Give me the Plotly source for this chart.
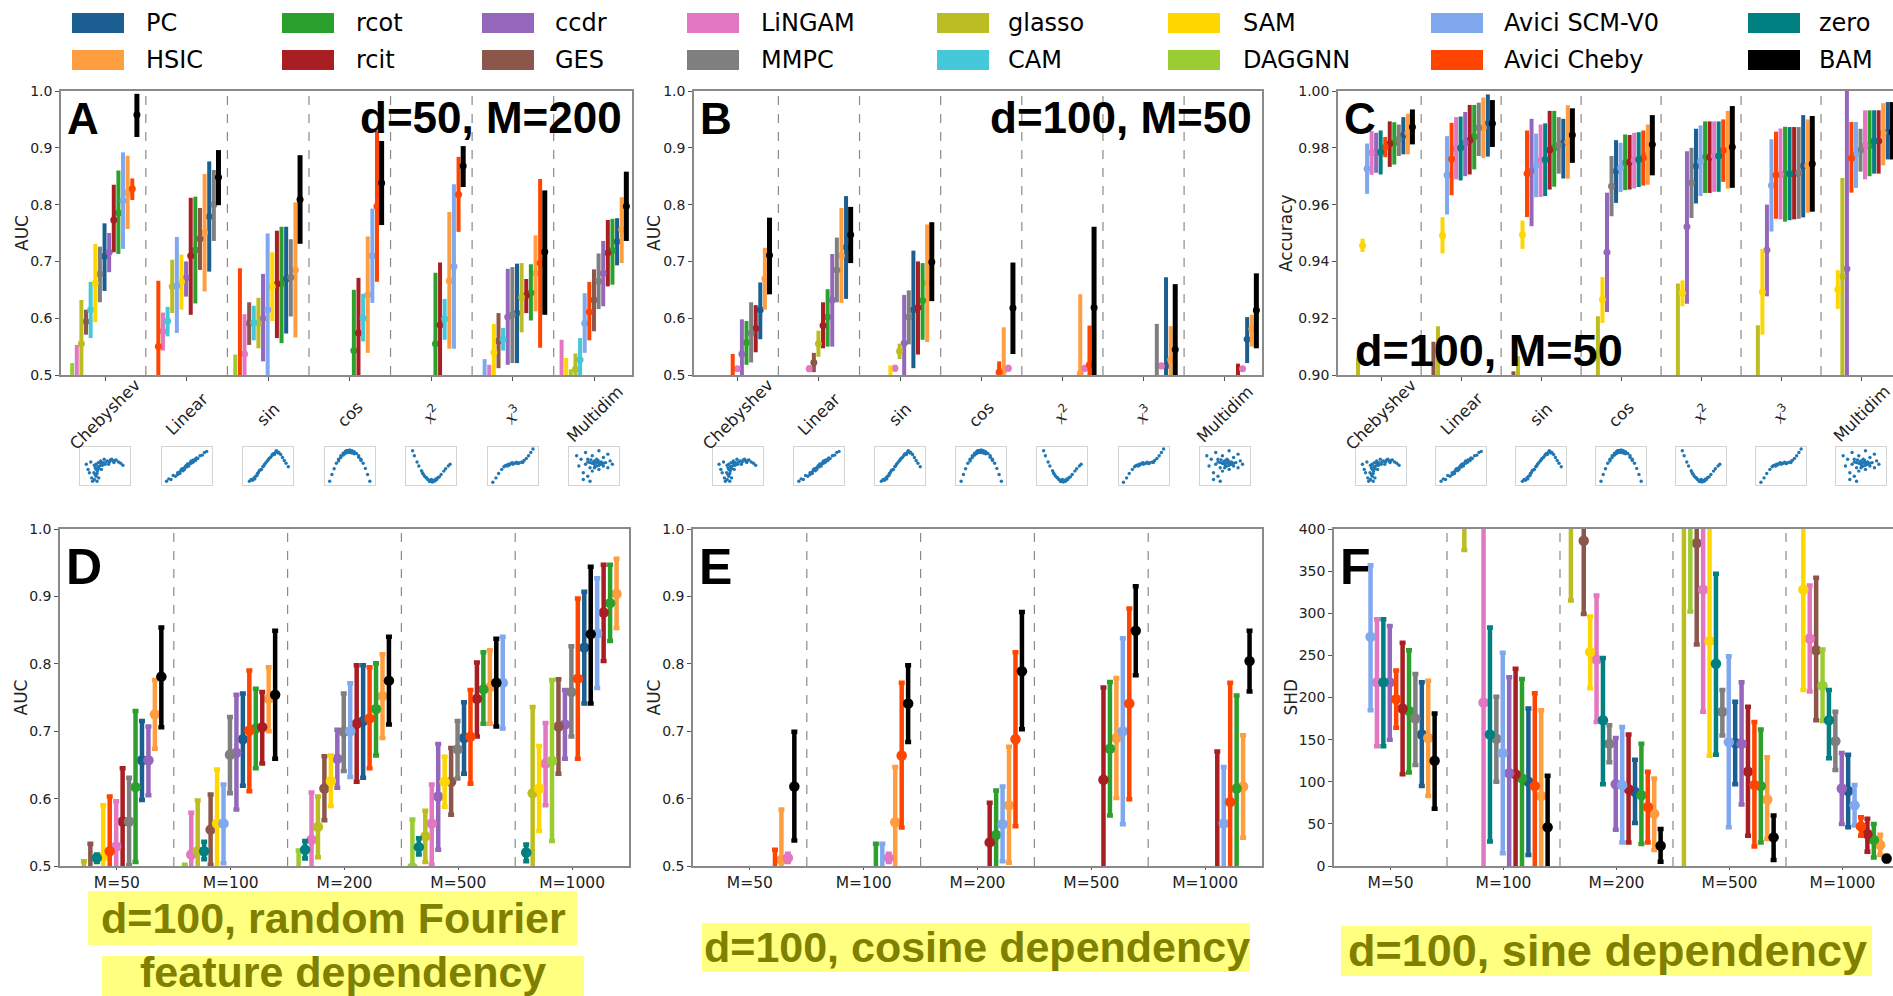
import plotly.graph_objects as go

W, H = 1893, 996

# ---------------- methods / colours ----------------
METHODS = ["PC", "HSIC", "rcot", "rcit", "ccdr", "GES", "LiNGAM", "MMPC", "glasso",
           "CAM", "SAM", "DAGGNN", "SCM", "CHB", "zero", "BAM"]
LABELS = {"SCM": "Avici SCM-V0", "CHB": "Avici Cheby"}
COLORS = {"PC": "#1b5e91", "HSIC": "#ff9e40", "rcot": "#2ca02c", "rcit": "#a81e22",
          "ccdr": "#9467bd", "GES": "#8c564b", "LiNGAM": "#e377c2", "MMPC": "#7f7f7f",
          "glasso": "#bcbd22", "CAM": "#45c8d9", "SAM": "#ffd700", "DAGGNN": "#9acd32",
          "SCM": "#80a8ee", "CHB": "#ff4500", "zero": "#008080", "BAM": "#000000"}
LEGEND_ROWS = [["PC", "rcot", "ccdr", "LiNGAM", "glasso", "SAM", "SCM", "zero"],
               ["HSIC", "rcit", "GES", "MMPC", "CAM", "DAGGNN", "CHB", "BAM"]]

FUNC_CATS = ["Chebyshev", "Linear", "sin", "cos",
             '<span style="font-family:DejaVu Serif"><i>x</i></span><sup>2</sup>',
             '<span style="font-family:DejaVu Serif"><i>x</i></span><sup>3</sup>', "Multidim"]
M_CATS = ["M=50", "M=100", "M=200", "M=500", "M=1000"]

# each group: entries (method, mean, low, high) left->right, None = unseen slot
# ---------------- Panel A (AUC, d=50, M=200) ----------------
A_cheb = [("DAGGNN", .46, .40, .521), ("LiNGAM", .49, .44, .553), ("glasso", .555, .48, .632),
          ("GES", .594, .571, .615), ("CAM", .615, .565, .664), ("SAM", .662, .593, .731),
          ("MMPC", .678, .628, .726), ("PC", .709, .648, .767), ("ccdr", .716, .681, .75),
          ("rcit", .773, .716, .835), ("rcot", .785, .713, .86), ("SCM", .807, .722, .892),
          ("HSIC", .821, .757, .886), ("CHB", .828, .808, .846), ("BAM", .958, .919, .995)]
A_lin = [("CHB", .55, .43, .666), ("LiNGAM", .577, .543, .61), ("CAM", .595, .568, .62),
         ("glasso", .656, .609, .703), ("SCM", .657, .574, .743), ("SAM", .664, .615, .712),
         ("ccdr", .671, .638, .70), ("rcit", .71, .606, .812), ("rcot", .72, .626, .814),
         ("GES", .74, .685, .794), ("HSIC", .751, .647, .854), ("PC", .779, .682, .876),
         ("MMPC", .80, .736, .861), ("BAM", .848, .799, .896)]
A_sin = [("DAGGNN", .45, .40, .536), ("CHB", .495, .40, .688), ("LiNGAM", .537, .47, .607),
         ("GES", .591, .553, .628), ("CAM", .592, .561, .622), ("glasso", .591, .547, .636),
         ("ccdr", .60, .524, .678), ("SCM", .615, .45, .749), ("SAM", .656, .595, .716),
         ("rcit", .66, .565, .754), ("rcot", .661, .556, .761), ("PC", .669, .573, .761),
         ("MMPC", .672, .603, .739), ("HSIC", .685, .566, .804), ("BAM", .809, .731, .887)]
A_cos = [("rcot", .543, .44, .65), ("rcit", .574, .45, .671), ("CAM", .60, .559, .643),
         ("HSIC", .641, .539, .744), ("SCM", .71, .627, .793), ("CHB", .797, .664, .93),
         ("BAM", .838, .764, .912)]
A_x2 = [("rcot", .555, .43, .68), ("rcit", .588, .46, .698), ("CAM", .599, .562, .634),
        ("HSIC", .666, .546, .787), ("SCM", .691, .546, .836), ("CHB", .818, .752, .884),
        ("BAM", .868, .831, .903)]
A_x3 = [("SCM", .45, .40, .528), ("LiNGAM", .47, .42, .518), ("SAM", .54, .46, .59),
        ("GES", .56, .512, .609), ("CAM", .563, .543, .583), ("ccdr", .602, .518, .687),
        ("MMPC", .606, .521, .69), ("PC", .609, .521, .696), ("glasso", .637, .575, .697),
        ("rcit", .64, .609, .669), ("rcot", .645, .596, .695), ("HSIC", .679, .612, .746),
        ("CHB", .697, .548, .845), ("BAM", .717, .606, .825)]
A_multi = [("LiNGAM", .48, .40, .562), ("SAM", .47, .41, .53), ("DAGGNN", .47, .43, .51),
           ("glasso", .51, .47, .538), ("CAM", .527, .48, .565), ("SCM", .591, .539, .644),
           ("CHB", .611, .561, .664), ("GES", .632, .577, .686), ("MMPC", .665, .616, .714),
           ("ccdr", .679, .621, .736), ("rcit", .715, .656, .773), ("rcot", .719, .659, .775),
           ("PC", .735, .693, .776), ("HSIC", .756, .697, .813), ("BAM", .797, .736, .858)]

# ---------------- Panel B (AUC, d=100, M=50) ----------------
B_cheb = [("CHB", .46, .40, .537), ("LiNGAM", .511, .506, .515), ("ccdr", .537, .46, .598),
          ("rcot", .557, .518, .595), ("MMPC", .574, .522, .628), ("rcit", .582, .54, .623),
          ("PC", .615, .563, .663), ("HSIC", .669, .615, .724), ("BAM", .711, .642, .777)]
B_lin = [("LiNGAM", .511, .505, .517), ("GES", .522, .505, .539), ("glasso", .555, .532, .578),
         ("rcit", .587, .547, .628), ("rcot", .602, .55, .651), ("ccdr", .632, .55, .713),
         ("MMPC", .685, .628, .742), ("HSIC", .71, .627, .794), ("PC", .725, .634, .815),
         ("BAM", .747, .697, .796)]
B_sin = [("SAM", .47, .42, .517), ("LiNGAM", .512, .506, .518), ("glasso", .542, .528, .555),
         ("ccdr", .556, .45, .641), ("MMPC", .602, .554, .649), ("PC", .615, .512, .719),
         ("rcit", .619, .536, .70), ("rcot", .631, .562, .697), ("HSIC", .662, .558, .765),
         ("BAM", .699, .63, .769)]
B_cos = [("CHB", .505, .47, .524), ("HSIC", .508, .44, .584), ("LiNGAM", .512, .506, .518),
         ("BAM", .618, .537, .698)]
B_x2 = [("HSIC", .503, .40, .642), ("LiNGAM", .512, .506, .518), ("CHB", .518, .45, .587),
        ("BAM", .619, .45, .761)]
B_x3 = [("MMPC", .48, .40, .59), ("LiNGAM", .516, .51, .522), ("PC", .516, .40, .672),
        ("HSIC", .527, .45, .586), ("BAM", .545, .45, .66)]
B_multi = [("rcit", .47, .42, .52), ("LiNGAM", .511, .506, .516), ("PC", .563, .521, .602),
           ("HSIC", .581, .55, .606), ("BAM", .614, .547, .679)]

# ---------------- Panel C (Accuracy, d=100, M=50) ----------------
C_cheb = [("glasso", .88, .86, .9062), ("SAM", .9456, .9433, .948), ("SCM", .9726, .9638, .9815),
          ("LiNGAM", .9783, .9705, .9859), ("ccdr", .9783, .9712, .9853), ("zero", .9785, .9706, .9861),
          ("CHB", .9803, .9767, .9838), ("rcit", .9814, .9733, .9893), ("rcot", .9818, .9741, .989),
          ("MMPC", .983, .9771, .9882), ("PC", .9844, .9777, .9908), ("HSIC", .9853, .9777, .992),
          ("BAM", .9873, .9812, .9935)]
C_lin = [("GES", .88, .86, .9117), ("glasso", .89, .86, .9172), ("SAM", .9491, .9428, .9556),
         ("SCM", .9704, .9565, .9841), ("CHB", .9761, .9633, .9888), ("LiNGAM", .9797, .9689, .9908),
         ("zero", .98, .9685, .991), ("ccdr", .9818, .97, .9926), ("rcit", .9827, .9706, .9951),
         ("rcot", .9839, .9724, .9951), ("MMPC", .9871, .9771, .9959), ("HSIC", .9871, .9764, .9977),
         ("PC", .9886, .9769, .9988), ("BAM", .9886, .9803, .9968)]
C_sin = [("GES", .88, .86, .9013), ("glasso", .885, .86, .9066), ("SAM", .9494, .9444, .9544),
         ("CHB", .9709, .9556, .9861), ("ccdr", .9718, .9524, .9902), ("SCM", .9738, .9626, .985),
         ("LiNGAM", .9756, .9627, .9882), ("zero", .9759, .963, .9886), ("rcit", .9792, .9653, .993),
         ("rcot", .98, .9663, .993), ("MMPC", .981, .9709, .9908), ("PC", .9818, .9692, .9902),
         ("HSIC", .982, .9691, .995), ("BAM", .9845, .9747, .9939)]
C_cos = [("glasso", .89, .86, .9207), ("SAM", .9266, .9183, .9345), ("ccdr", .9432, .9222, .9642),
         ("MMPC", .9665, .9559, .9771), ("PC", .9718, .9606, .9827), ("SCM", .973, .9644, .9818),
         ("rcot", .9747, .9651, .9847), ("rcit", .975, .9653, .9845), ("LiNGAM", .9756, .9657, .9853),
         ("zero", .9759, .9662, .9855), ("CHB", .9765, .9667, .9861), ("HSIC", .9777, .967, .9882),
         ("BAM", .9812, .9703, .9915)]
C_x2 = [("glasso", .89, .86, .9322), ("SAM", .9289, .9242, .9333), ("ccdr", .9522, .9251, .9788),
        ("MMPC", .9677, .9553, .98), ("PC", .9736, .9604, .9867), ("SCM", .9753, .963, .9879),
        ("rcot", .9767, .9641, .9893), ("rcit", .9767, .9641, .9893), ("LiNGAM", .9771, .9645, .9893),
        ("zero", .9771, .9645, .9893), ("CHB", .9791, .968, .99), ("HSIC", .9792, .9656, .993),
        ("BAM", .9803, .9659, .9947)]
C_x3 = [("glasso", .89, .86, .9175), ("SAM", .9293, .9142, .9444), ("ccdr", .944, .9277, .96),
        ("SCM", .9667, .9505, .983), ("CHB", .9704, .955, .9857), ("LiNGAM", .9706, .9548, .9868),
        ("rcot", .9709, .954, .9874), ("zero", .9709, .9545, .9873), ("rcit", .9709, .9548, .9873),
        ("MMPC", .9712, .955, .9873), ("PC", .9736, .9555, .9915), ("HSIC", .9738, .9571, .99),
        ("BAM", .9744, .9575, .9912)]
C_multi = [("SAM", .9301, .9233, .9369), ("glasso", .9348, .88, .9694), ("ccdr", .9374, .88, 1.02),
           ("CHB", .9763, .9642, .9891), ("SCM", .9777, .9659, .9891), ("MMPC", .9792, .9716, .9867),
           ("LiNGAM", .9808, .9689, .9932), ("rcot", .9808, .97, .9932), ("zero", .9824, .9709, .9932),
           ("rcit", .9824, .9709, .9932), ("HSIC", .9851, .9738, .9957), ("PC", .9855, .9759, .9961),
           ("BAM", .9855, .9759, .9961)]

# ---------------- Panel D (AUC, random Fourier) ----------------
D_50 = [("glasso", .46, .40, .507), ("GES", .48, .42, .533), ("zero", .512, .506, .517),
        ("SAM", .514, .44, .59), ("CHB", .522, .44, .603), ("LiNGAM", .529, .46, .596),
        ("rcit", .566, .48, .645), ("MMPC", .566, .501, .631), ("rcot", .617, .506, .73),
        ("PC", .657, .598, .715), ("ccdr", .657, .605, .707), ("HSIC", .725, .674, .776),
        ("BAM", .781, .706, .854)]
D_100 = [("DAGGNN", .45, .40, .502), ("LiNGAM", .517, .45, .579), ("glasso", .522, .45, .597),
         ("zero", .522, .51, .536), ("GES", .554, .502, .606), ("SAM", .563, .48, .643),
         ("SCM", .563, .504, .621), ("MMPC", .665, .608, .721), ("ccdr", .668, .584, .754),
         ("PC", .688, .619, .756), ("CHB", .701, .611, .79), ("rcot", .704, .645, .763),
         ("rcit", .706, .652, .758), ("HSIC", .748, .70, .795), ("BAM", .754, .659, .849)]
D_200 = [("DAGGNN", .47, .42, .523), ("zero", .524, .511, .537), ("LiNGAM", .539, .47, .609),
         ("glasso", .558, .513, .603), ("GES", .615, .568, .663), ("SAM", .626, .589, .664),
         ("ccdr", .659, .616, .702), ("MMPC", .699, .641, .756), ("SCM", .70, .632, .771),
         ("rcit", .711, .625, .798), ("PC", .715, .631, .798), ("CHB", .719, .645, .795),
         ("rcot", .733, .664, .801), ("HSIC", .752, .69, .814), ("BAM", .775, .71, .84)]
D_500 = [("DAGGNN", .498, .43, .569), ("zero", .528, .517, .541), ("glasso", .544, .506, .582),
         ("LiNGAM", .563, .502, .621), ("ccdr", .603, .524, .681), ("SAM", .625, .588, .662),
         ("GES", .625, .576, .675), ("MMPC", .673, .63, .715), ("PC", .69, .637, .743),
         ("CHB", .692, .622, .761), ("rcit", .748, .692, .802), ("rcot", .762, .711, .817),
         ("HSIC", .765, .711, .82), ("BAM", .772, .707, .837), ("SCM", .772, .704, .84)]
D_1000 = [("zero", .52, .507, .532), ("glasso", .608, .45, .736), ("SAM", .615, .552, .678),
          ("LiNGAM", .652, .59, .712), ("DAGGNN", .656, .537, .776), ("GES", .707, .637, .777),
          ("ccdr", .71, .659, .761), ("MMPC", .758, .692, .826), ("CHB", .778, .659, .897),
          ("PC", .824, .741, .907), ("BAM", .844, .741, .944), ("SCM", .845, .764, .927),
          ("rcit", .876, .804, .947), ("rcot", .89, .834, .947), ("HSIC", .904, .853, .956)]

# ---------------- Panel E (AUC, cosine) ----------------
E_50 = [("CHB", .48, .42, .524), ("HSIC", .509, .44, .584), ("LiNGAM", .512, .506, .518),
        ("BAM", .618, .538, .699)]
E_100 = [("rcot", .47, .42, .533), ("SCM", .47, .42, .533), ("LiNGAM", .512, .506, .518),
         ("HSIC", .565, .45, .647), ("CHB", .664, .557, .772), ("BAM", .741, .684, .798)]
E_200 = [("rcit", .535, .45, .594), ("rcot", .546, .45, .612), ("SCM", .562, .507, .618),
         ("HSIC", .59, .505, .677), ("CHB", .688, .559, .817), ("BAM", .789, .703, .877)]
E_500 = [("rcit", .628, .45, .765), ("rcot", .674, .575, .773), ("HSIC", .69, .601, .779),
         ("SCM", .70, .562, .838), ("CHB", .741, .599, .882), ("BAM", .849, .783, .915)]
E_1000 = [("rcit", .49, .40, .67), ("SCM", .563, .45, .647), ("CHB", .595, .45, .772),
          ("rcot", .615, .45, .753), ("HSIC", .618, .542, .694), ("BAM", .804, .759, .849)]

# ---------------- Panel F (SHD, sine) ----------------
F_50 = [("SCM", 272, 185, 357), ("LiNGAM", 218, 142, 293), ("zero", 218, 142, 293),
        ("ccdr", 218, 150, 285), ("CHB", 198, 164, 232), ("rcit", 187, 109, 265),
        ("rcot", 184, 111, 256), ("MMPC", 175, 120, 228), ("PC", 156, 95, 218),
        ("HSIC", 152, 83, 220), ("BAM", 125, 68, 181)]
F_100 = [("glasso", 450, 375, 600), None, None, ("LiNGAM", 194, -10, 420), ("zero", 156, 29, 283),
         ("MMPC", 151, 100, 201), ("SCM", 134, 15, 253), ("ccdr", 110, -10, 224),
         ("rcit", 109, -10, 234), ("rcot", 104, -10, 222), ("PC", 100, 13, 187),
         ("CHB", 95, -10, 205), ("HSIC", 83, -10, 185), ("BAM", 46, -10, 107)]
F_200 = [("glasso", 450, 315, 600), None, ("GES", 386, 299, 420), ("SAM", 254, 211, 296),
         ("LiNGAM", 245, 171, 321), ("zero", 173, 97, 247), ("MMPC", 145, 123, 167),
         ("ccdr", 97, 43, 152), ("SCM", 96, 28, 165), ("rcit", 91, 28, 156), ("PC", 88, 51, 126),
         ("rcot", 84, 26, 145), ("CHB", 70, 28, 112), ("HSIC", 62, 19, 104), ("BAM", 24, 5, 44)]
F_500 = [("glasso", 480, -10, 1000), ("DAGGNN", 450, 302, 600), ("GES", 383, 263, 420),
         ("LiNGAM", 328, 183, 420), ("SAM", 267, 131, 420), ("zero", 240, 132, 347),
         ("MMPC", 183, 155, 209), ("SCM", 147, 46, 249), ("PC", 146, 97, 195),
         ("ccdr", 145, 73, 218), ("rcit", 112, 36, 189), ("CHB", 96, 23, 171),
         ("rcot", 95, 28, 162), ("HSIC", 79, 32, 129), ("BAM", 34, 7, 60)]
F_1000 = [("SAM", 328, 209, 420), ("LiNGAM", 270, 207, 333), ("GES", 256, 173, 342),
          ("DAGGNN", 214, 172, 257), ("zero", 173, 128, 209), ("MMPC", 148, 114, 183),
          ("ccdr", 92, 50, 134), ("PC", 89, 46, 132), ("SCM", 72, 48, 96), ("CHB", 47, 36, 58),
          ("rcit", 38, 17, 56), ("rcot", 31, 10, 50), ("HSIC", 25, 13, 37), ("BAM", 9, 6, 12)]

# ---------------- thumbnails (approximate shapes) ----------------
TH_CHEB = [(0.08, 0.55), (0.12, 0.4), (0.15, 0.3), (0.18, 0.62), (0.2, 0.15), (0.22, 0.05), (0.25, 0.3),
           (0.26, 0.1), (0.28, 0.45), (0.3, 0.2), (0.3, 0.55), (0.32, 0.05), (0.33, 0.35), (0.35, 0.6),
           (0.36, 0.15), (0.38, 0.5), (0.4, 0.65), (0.42, 0.4), (0.45, 0.6), (0.48, 0.7), (0.5, 0.55),
           (0.55, 0.65), (0.6, 0.62), (0.65, 0.7), (0.7, 0.6), (0.75, 0.68), (0.8, 0.62), (0.85, 0.58),
           (0.9, 0.52), (0.28, 0.25), (0.34, 0.48), (0.4, 0.58), (0.3, 0.4), (0.26, 0.52), (0.32, 0.28),
           (0.36, 0.42), (0.44, 0.52), (0.52, 0.62), (0.58, 0.55), (0.62, 0.68), (0.68, 0.64), (0.72, 0.66)]
TH_LIN = [(0.05, 0.05), (0.1, 0.12), (0.15, 0.1), (0.2, 0.22), (0.25, 0.2), (0.3, 0.3), (0.35, 0.33),
          (0.4, 0.38), (0.45, 0.45), (0.5, 0.47), (0.55, 0.55), (0.6, 0.58), (0.65, 0.62), (0.7, 0.7),
          (0.75, 0.72), (0.8, 0.8), (0.85, 0.82), (0.9, 0.9), (0.95, 0.93), (0.3, 0.25), (0.5, 0.52),
          (0.6, 0.65), (0.4, 0.42), (0.7, 0.66), (0.35, 0.28), (0.45, 0.4), (0.55, 0.5), (0.65, 0.68),
          (0.38, 0.4), (0.48, 0.5), (0.58, 0.6), (0.42, 0.36), (0.52, 0.56), (0.62, 0.6), (0.72, 0.74)]
TH_SIN = [(0.08, 0.05), (0.12, 0.1), (0.18, 0.15), (0.22, 0.2), (0.28, 0.3), (0.32, 0.38), (0.38, 0.48),
          (0.42, 0.55), (0.48, 0.65), (0.52, 0.72), (0.58, 0.8), (0.62, 0.86), (0.66, 0.9), (0.7, 0.93),
          (0.74, 0.9), (0.78, 0.84), (0.82, 0.75), (0.86, 0.66), (0.9, 0.58), (0.95, 0.48), (0.15, 0.08),
          (0.25, 0.22), (0.35, 0.4), (0.45, 0.6), (0.55, 0.75), (0.2, 0.12), (0.3, 0.36), (0.6, 0.85),
          (0.4, 0.5), (0.5, 0.68), (0.64, 0.84), (0.68, 0.95), (0.72, 0.88), (0.26, 0.28)]
TH_COS = [(0.05, 0.05), (0.1, 0.25), (0.15, 0.42), (0.2, 0.58), (0.25, 0.7), (0.3, 0.8), (0.35, 0.88),
          (0.4, 0.93), (0.45, 0.96), (0.5, 0.97), (0.55, 0.95), (0.6, 0.92), (0.65, 0.87), (0.7, 0.8),
          (0.75, 0.7), (0.8, 0.58), (0.85, 0.43), (0.9, 0.25), (0.95, 0.05), (0.45, 0.9), (0.5, 0.9),
          (0.55, 0.88), (0.4, 0.87), (0.35, 0.82), (0.6, 0.86), (0.42, 0.95), (0.48, 0.93),
          (0.52, 0.94), (0.58, 0.9), (0.3, 0.75), (0.7, 0.76), (0.25, 0.65), (0.75, 0.66)]
TH_X2 = [(0.08, 0.95), (0.12, 0.8), (0.18, 0.62), (0.22, 0.5), (0.28, 0.36), (0.32, 0.26), (0.38, 0.16),
         (0.42, 0.1), (0.48, 0.05), (0.52, 0.03), (0.58, 0.06), (0.62, 0.1), (0.68, 0.18), (0.72, 0.25),
         (0.78, 0.35), (0.82, 0.42), (0.88, 0.5), (0.92, 0.55), (0.45, 0.08), (0.55, 0.05), (0.5, 0.1),
         (0.4, 0.14), (0.6, 0.12), (0.35, 0.2), (0.65, 0.16), (0.46, 0.04), (0.54, 0.08), (0.3, 0.3)]
TH_X3 = [(0.05, 0.02), (0.12, 0.15), (0.18, 0.28), (0.25, 0.4), (0.3, 0.48), (0.35, 0.52), (0.4, 0.55),
         (0.45, 0.57), (0.5, 0.58), (0.55, 0.58), (0.6, 0.59), (0.65, 0.6), (0.7, 0.62), (0.75, 0.66),
         (0.8, 0.72), (0.85, 0.8), (0.9, 0.9), (0.95, 1.0), (0.42, 0.53), (0.5, 0.55), (0.58, 0.61),
         (0.38, 0.5), (0.48, 0.6), (0.62, 0.57), (0.72, 0.6), (0.32, 0.5)]
TH_MULTI = [(0.1, 0.8), (0.15, 0.5), (0.2, 0.7), (0.25, 0.3), (0.3, 0.9), (0.3, 0.55), (0.35, 0.2),
            (0.35, 0.7), (0.4, 0.45), (0.4, 0.6), (0.45, 0.8), (0.45, 0.35), (0.5, 0.55), (0.5, 0.65),
            (0.55, 0.5), (0.55, 0.7), (0.6, 0.6), (0.6, 0.4), (0.65, 0.55), (0.7, 0.75), (0.7, 0.5),
            (0.75, 0.6), (0.8, 0.45), (0.85, 0.65), (0.9, 0.55), (0.25, 0.1), (0.8, 0.85), (0.4, 0.05),
            (0.6, 0.95), (0.5, 0.45), (0.65, 0.62), (0.45, 0.58), (0.55, 0.6), (0.6, 0.52), (0.7, 0.58),
            (0.35, 0.62), (0.42, 0.68), (0.52, 0.5), (0.58, 0.66), (0.48, 0.62)]
THUMBS = [TH_CHEB, TH_LIN, TH_SIN, TH_COS, TH_X2, TH_X3, TH_MULTI]

# ---------------- layout geometry (pixels) ----------------
PANELS = [
    dict(letter="A", groups=[A_cheb, A_lin, A_sin, A_cos, A_x2, A_x3, A_multi], cats=FUNC_CATS,
         px=(61, 632), py=(91, 375), xr=(-0.54, 6.46), yr=(0.5, 1.0), dtick=0.1, fmt=".1f",
         ytitle="AUC", tx=22, top=True, right=True, tag="d=50, M=200"),
    dict(letter="B", groups=[B_cheb, B_lin, B_sin, B_cos, B_x2, B_x3, B_multi], cats=FUNC_CATS,
         px=(694, 1262), py=(91, 375), xr=(-0.54, 6.46), yr=(0.5, 1.0), dtick=0.1, fmt=".1f",
         ytitle="AUC", tx=654, top=True, right=True, tag="d=100, M=50"),
    dict(letter="C", groups=[C_cheb, C_lin, C_sin, C_cos, C_x2, C_x3, C_multi], cats=FUNC_CATS,
         px=(1338, 1893), py=(91, 375), xr=(-0.54, 6.40), yr=(0.9, 1.0), dtick=0.02, fmt=".2f",
         ytitle="Accuracy", tx=1286, top=True, right=False, tag=None),
    dict(letter="D", groups=[D_50, D_100, D_200, D_500, D_1000], cats=M_CATS,
         px=(60, 629), py=(529, 866), xr=(-0.5, 4.5), yr=(0.5, 1.0), dtick=0.1, fmt=".1f",
         ytitle="AUC", tx=20, top=False, right=True, tag=None),
    dict(letter="E", groups=[E_50, E_100, E_200, E_500, E_1000], cats=M_CATS,
         px=(693, 1262), py=(529, 866), xr=(-0.5, 4.5), yr=(0.5, 1.0), dtick=0.1, fmt=".1f",
         ytitle="AUC", tx=653, top=False, right=True, tag=None),
    dict(letter="F", groups=[F_50, F_100, F_200, F_500, F_1000], cats=M_CATS,
         px=(1334, 1893), py=(529, 866), xr=(-0.5, 4.447), yr=(0, 400), dtick=50, fmt="d",
         ytitle="SHD", tx=1290, top=False, right=False, tag=None),
]
NSLOT = 16
OFF0, STEP = -0.46, 0.0567


def fx(x):
    return x / W


def fy(y):
    return 1 - y / H


fig = go.Figure()
shapes, annotations = [], []
FRAME = "#8a8a8a"
TICKFONT = dict(family="DejaVu Sans", size=14, color="#222")

for i, p in enumerate(PANELS, start=1):
    xa, ya = ("x%d" % i if i > 1 else "x"), ("y%d" % i if i > 1 else "y")
    by_m = {}
    for gi, grp in enumerate(p["groups"]):
        pad = NSLOT - len(grp)
        for j, e in enumerate(grp):
            if e is None:
                continue
            m, mean, lo, hi = e
            d = by_m.setdefault(m, ([], [], [], []))
            d[0].append(gi + OFF0 + (pad + j) * STEP)
            d[1].append(mean)
            d[2].append(hi - mean)
            d[3].append(mean - lo)
    order = [m for m in METHODS if m != "BAM"] + ["BAM"]
    top = p["top"]
    for m in order:
        if m not in by_m:
            continue
        xs, ys, ep, em = by_m[m]
        fig.add_trace(go.Scatter(
            x=xs, y=ys, mode="markers", xaxis=xa, yaxis=ya, showlegend=False,
            marker=dict(color=COLORS[m], size=(7 if top else 10.5)),
            error_y=dict(type="data", array=ep, arrayminus=em, color=COLORS[m],
                         thickness=(5 if m == "BAM" else 4) if top else 4.5,
                         width=0 if top else 3),
            hoverinfo="skip"))
    n = len(p["cats"])
    axkey = "xaxis%d" % i if i > 1 else "xaxis"
    aykey = "yaxis%d" % i if i > 1 else "yaxis"
    fig.layout[axkey] = dict(
        domain=[fx(p["px"][0]), fx(p["px"][1])], range=list(p["xr"]), anchor=ya, automargin=False,
        tickmode="array", tickvals=list(range(n)), ticktext=p["cats"], showticklabels=not top,
        tickfont=dict(family="DejaVu Sans", size=15.5, color="#222"),
        showline=True, linecolor=FRAME, linewidth=1.5, mirror=True,
        ticks="outside", ticklen=4 if top else 2, tickcolor="#555", showgrid=False, zeroline=False)
    fig.layout[aykey] = dict(
        domain=[fy(p["py"][1]), fy(p["py"][0])], range=list(p["yr"]), anchor=xa, automargin=False,
        dtick=p["dtick"], tick0=p["yr"][0], tickformat=p["fmt"], tickfont=TICKFONT,
        showline=True, linecolor=FRAME, linewidth=1.5, mirror=p["right"],
        ticks="outside", ticklen=4, tickcolor="#555", showgrid=False, zeroline=False)
    for k in range(n - 1):
        shapes.append(dict(type="line", xref=xa, yref=ya + " domain", x0=k + 0.5, x1=k + 0.5,
                           y0=0, y1=1, line=dict(color="#8a8a8a", width=1.2, dash="dash")))
    # rotated category labels centred under each tick (top row)
    if top:
        for k, cat in enumerate(p["cats"]):
            annotations.append(dict(text=cat, xref=xa, yref="paper", x=k, y=fy(414),
                                    xanchor="center", yanchor="middle", textangle=-45, showarrow=False,
                                    font=dict(family="DejaVu Sans", size=16.5, color="#222")))
    # axis title
    annotations.append(dict(text=p["ytitle"], xref="paper", yref="paper", x=fx(p["tx"]),
                            y=fy((p["py"][0] + p["py"][1]) / 2), textangle=-90, showarrow=False,
                            xanchor="center", yanchor="middle",
                            font=dict(family="DejaVu Sans", size=17, color="#222")))
    # panel letter
    big = 44 if top else 50
    annotations.append(dict(text="<b>%s</b>" % p["letter"], xref="paper", yref="paper",
                            x=fx(p["px"][0] + 4), y=fy(p["py"][0] + (1 if top else 8)),
                            xanchor="left", yanchor="top", showarrow=False,
                            font=dict(family="Liberation Sans", size=big, color="black")))
    if p["tag"]:
        annotations.append(dict(text="<b>%s</b>" % p["tag"], xref="paper", yref="paper",
                                x=fx(p["px"][1] - 8), y=fy(p["py"][0]), xanchor="right",
                                yanchor="top", showarrow=False,
                                font=dict(family="Liberation Sans", size=44, color="black")))

# overlay label inside panel C
annotations.append(dict(text="<b>d=100, M=50</b>", xref="paper", yref="paper", x=fx(1353), y=fy(378),
                        xanchor="left", yanchor="bottom", showarrow=False,
                        font=dict(family="Liberation Sans", size=45, color="black")))

# thumbnails below panels A-C
ax_id = 7
for p in PANELS[:3]:
    (x0, x1), (r0, r1) = p["px"], p["xr"]
    for k, pts in enumerate(THUMBS):
        cx = x0 + (k - r0) / (r1 - r0) * (x1 - x0)
        xa, ya = "x%d" % ax_id, "y%d" % ax_id
        fig.add_trace(go.Scatter(x=[q[0] for q in pts], y=[q[1] for q in pts], mode="markers",
                                 xaxis=xa, yaxis=ya, showlegend=False, hoverinfo="skip",
                                 marker=dict(color="#1f77b4", size=3.4)))
        common = dict(showline=True, linecolor="#d4d4d4", linewidth=1, mirror=True, showticklabels=False,
                      ticks="", showgrid=False, zeroline=False, range=[-0.06, 1.06], automargin=False)
        fig.layout["xaxis%d" % ax_id] = dict(domain=[fx(cx - 25), fx(cx + 25)], anchor=ya, **common)
        fig.layout["yaxis%d" % ax_id] = dict(domain=[fy(485), fy(447)], anchor=xa, **common)
        ax_id += 1

# legend (two rows, eight columns)
SW_X = [72, 282, 482, 687, 937, 1168, 1431, 1748]
TX_X = [144, 354, 553, 759, 1006, 1241, 1502, 1817]
ROW_Y = [23, 60]
for r, row in enumerate(LEGEND_ROWS):
    for c, m in enumerate(row):
        yc = ROW_Y[r]
        shapes.append(dict(type="rect", xref="paper", yref="paper", x0=fx(SW_X[c]), x1=fx(SW_X[c] + 52),
                           y0=fy(yc + 10), y1=fy(yc - 10), fillcolor=COLORS[m], line=dict(width=0)))
        annotations.append(dict(text=LABELS.get(m, m), xref="paper", yref="paper", x=fx(TX_X[c]), y=fy(yc),
                                xanchor="left", yanchor="middle", showarrow=False,
                                font=dict(family="DejaVu Sans", size=24, color="black")))

# highlighted captions under D, E, F: text, box (x0, x1, y0, y1), text centre (x, y), size
CAPTIONS = [("d=100, random Fourier", (88, 577, 891, 945), (333, 918), 43),
            ("feature dependency", (102, 584, 956, 996), (343, 972), 43),
            ("d=100, cosine dependency", (702, 1250, 923, 972), (977, 947), 43),
            ("d=100, sine dependency", (1341, 1872, 926, 976), (1607, 950), 45)]
for text, (bx0, bx1, by0, by1), (tcx, tcy), fs in CAPTIONS:
    shapes.append(dict(type="rect", xref="paper", yref="paper", x0=fx(bx0), x1=fx(bx1), y0=fy(by1),
                       y1=fy(by0), fillcolor="#ffff80", line=dict(width=0), layer="below"))
    annotations.append(dict(text="<b>%s</b>" % text, xref="paper", yref="paper", x=fx(tcx),
                            y=fy(tcy), xanchor="center", yanchor="middle", showarrow=False,
                            font=dict(family="Liberation Sans", size=fs, color="#808000")))

fig.update_layout(width=W, height=H, margin=dict(l=0, r=0, t=0, b=0, pad=0, autoexpand=False),
                  paper_bgcolor="white", plot_bgcolor="white", shapes=shapes,
                  annotations=annotations, showlegend=False)

fig.write_html("out.html", config={"displayModeBar": False},
               post_script="document.body.style.margin='0px';document.documentElement.style.margin='0px';"
                           "document.body.style.overflow='hidden';")
